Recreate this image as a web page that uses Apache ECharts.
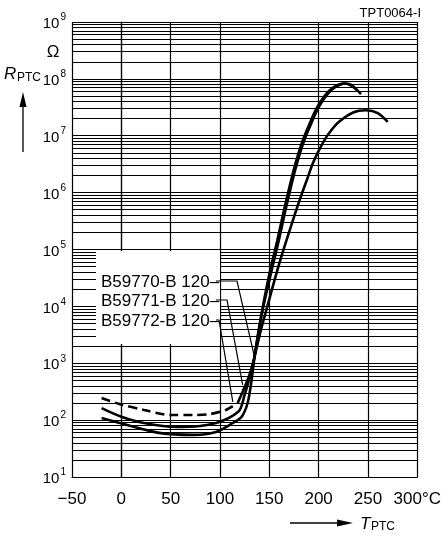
<!DOCTYPE html>
<html><head><meta charset="utf-8">
<script src="https://cdn.jsdelivr.net/npm/echarts@6/dist/echarts.min.js"></script>
<style>html,body{margin:0;padding:0;background:#fff}#c{width:444px;height:536px}</style>
</head><body><div id="c"></div>
<script>
// ---- axis ticks ----
const xTicks = [-50, 0, 50, 100, 150, 200, 250, 300];
const yMin = 10, yMax = 1e9;
const curveLabels = ['B59770-B 120', 'B59771-B 120', 'B59772-B 120'];

// ---- B59770-B120 (lowest at low temperature) ----
const tempA = [-20, 6, 40, 73, 96, 113, 122, 128, 132, 135, 139, 144, 152.5, 159.5, 165.5, 171.5, 176.5, 181.5, 186.5, 191.5, 197.5, 203.5, 209.5, 215.5, 221.5, 227.5, 233.5, 240];
const resA  = [109, 82, 59, 55, 62, 89, 115, 200, 500, 1290, 3550, 1.0e4, 4.4e4, 1.41e5, 4.2e5, 1.17e6, 2.6e6, 5.2e6, 9.3e6, 1.5e7, 2.6e7, 4.0e7, 5.5e7, 6.9e7, 7.9e7, 8.3e7, 7.8e7, 6.0e7];

// ---- B59771-B120 (middle) ----
const tempB = [-20, 0, 23, 56, 80, 96, 110, 120, 125, 130, 135, 139, 143.5, 151, 158, 164, 170, 175, 180, 185, 190, 196, 202, 208, 214, 220, 226, 232, 238, 243];
const resB  = [163, 115, 89, 76, 79, 89, 112, 151, 280, 560, 1290, 3550, 1.0e4, 4.4e4, 1.41e5, 4.2e5, 1.17e6, 2.6e6, 5.2e6, 9.3e6, 1.5e7, 2.6e7, 4.0e7, 5.5e7, 6.9e7, 7.9e7, 8.3e7, 7.8e7, 6.6e7, 5.4e7];

// ---- B59772-B120 (dashed part at low temperature, then solid) ----
const tempCdash = [-20, -2, 23, 50, 73, 90, 106, 118];
const resCdash  = [245, 192, 151, 123, 123, 128, 151, 200];
const tempC = [118, 126, 131, 135, 141, 148, 160, 170, 180, 188, 195, 205, 213, 221, 235, 248, 260, 270];
const resC  = [200, 417, 710, 1290, 3550, 1.0e4, 5.6e4, 2.0e5, 6.8e5, 1.66e6, 3.55e6, 7.9e6, 1.26e7, 1.78e7, 2.57e7, 2.8e7, 2.5e7, 1.75e7];

// leader line targets on the curves (temp, resistance)
const leaderTemp = [135, 123, 113];
const leaderRes  = [1290, 417, 209];

const zip = (a, b) => a.map((v, i) => [v, b[i]]);

// minor log grid lines 2..9 x 10^n
const minorVals = [];
for (let e = 1; e < 9; e++) for (let k = 2; k <= 9; k++) minorVals.push(k * Math.pow(10, e));

const FONT = '"Liberation Sans", Arial, sans-serif';
const NARROW = '"Liberation Sans Narrow", "Liberation Sans", sans-serif';

const chart = echarts.init(document.getElementById('c'), null, {renderer: 'canvas'});
const curveStyle = {color: '#000', width: 2.6};
const mkSeries = (data, type) => ({
  type: 'line', data, smooth: 0.3, showSymbol: false, symbol: 'none', silent: true,
  lineStyle: Object.assign({}, curveStyle, type ? {type: type} : {}), z: 5
});

chart.setOption({
  animation: false,
  backgroundColor: '#fff',
  grid: {left: 72, right: 24, top: 22, bottom: 59, containLabel: false},
  xAxis: {
    type: 'value', min: -50, max: 300, interval: 50,
    axisLine: {show: true, lineStyle: {color: '#000', width: 1.2}},
    axisTick: {show: false},
    splitLine: {show: true, lineStyle: {color: '#000', width: 1.2}},
    axisLabel: {
      margin: 14, color: '#000', fontFamily: NARROW, fontSize: 17,
      formatter: v => v === 300 ? '300°C' : (v < 0 ? '\u2212' + Math.abs(v) : String(v))
    }
  },
  yAxis: {
    type: 'log', logBase: 10, min: yMin, max: yMax, splitNumber: 8,
    axisLine: {show: true, lineStyle: {color: '#000', width: 1.2}},
    axisTick: {show: false},
    splitLine: {show: true, lineStyle: {color: '#000', width: 1.2}},
    axisLabel: {
      margin: 6, color: '#000',
      formatter: v => '{b|10}{s|' + Math.round(Math.log10(v)) + '}',
      rich: {
        b: {fontFamily: FONT, fontSize: 15, color: '#000', padding: [4, 0, 0, 0]},
        s: {fontFamily: FONT, fontSize: 10, color: '#000', padding: [0, 0, 9, 1]}
      }
    }
  },
  series: [
    Object.assign(mkSeries([]), {
      markLine: {
        silent: true, symbol: 'none', animation: false,
        label: {show: false},
        lineStyle: {color: '#000', width: 1, type: 'solid'},
        data: minorVals.map(v => ({yAxis: v}))
      }, z: 2
    }),
    mkSeries(zip(tempA, resA)),
    mkSeries(zip(tempB, resB)),
    mkSeries(zip(tempCdash, resCdash), [9, 5]),
    mkSeries(zip(tempC, resC))
  ]
});

// annotation box and leaders
const labelY = [282, 301, 321];
const elbowX = [237, 227, 219];
const g = [];
g.push({type: 'rect', shape: {x: 96, y: 251, width: 124, height: 93}, style: {fill: '#fff'}, z: 20, silent: true});
curveLabels.forEach((t, i) => {
  g.push({type: 'text', x: 101, y: labelY[i], z: 30, silent: true,
    style: {text: t + '\u2013', fill: '#000', font: '17px "Liberation Sans", sans-serif', textVerticalAlign: 'middle', textAlign: 'left'}});
  const p = chart.convertToPixel({gridIndex: 0}, [leaderTemp[i], leaderRes[i]]);
  g.push({type: 'polyline', z: 30, silent: true,
    shape: {points: [[216, labelY[i] - 1], [elbowX[i], labelY[i] - 1], p]},
    style: {stroke: '#000', lineWidth: 1.2, fill: null}});
});
// titles
g.push({type: 'text', x: 421, y: 13, z: 30, style: {text: 'TPT0064-I', fill: '#000', font: '13px "Liberation Sans", sans-serif', textAlign: 'right', textVerticalAlign: 'middle'}});
g.push({type: 'text', x: 53, y: 52, z: 30, style: {text: 'Ω', fill: '#000', font: '17px "Liberation Sans", sans-serif', textAlign: 'center', textVerticalAlign: 'middle'}});
g.push({type: 'text', x: 4, y: 74, z: 30, style: {text: 'R', fill: '#000', font: 'italic 17px "Liberation Sans", sans-serif', textAlign: 'left', textVerticalAlign: 'middle'}});
g.push({type: 'text', x: 17, y: 78, z: 30, style: {text: 'PTC', fill: '#000', font: '12px "Liberation Sans", sans-serif', textAlign: 'left', textVerticalAlign: 'middle'}});
g.push({type: 'line', z: 30, shape: {x1: 23, y1: 152, x2: 23, y2: 100}, style: {stroke: '#000', lineWidth: 1.3}});
g.push({type: 'polygon', z: 30, shape: {points: [[23, 92], [19.5, 107], [26.5, 107]]}, style: {fill: '#000'}});
g.push({type: 'line', z: 30, shape: {x1: 290, y1: 523, x2: 340, y2: 523}, style: {stroke: '#000', lineWidth: 1.3}});
g.push({type: 'polygon', z: 30, shape: {points: [[353, 523], [337, 519.5], [337, 526.5]]}, style: {fill: '#000'}});
g.push({type: 'text', x: 360, y: 524, z: 30, style: {text: 'T', fill: '#000', font: 'italic 17px "Liberation Sans", sans-serif', textAlign: 'left', textVerticalAlign: 'middle'}});
g.push({type: 'text', x: 371, y: 527, z: 30, style: {text: 'PTC', fill: '#000', font: '12px "Liberation Sans", sans-serif', textAlign: 'left', textVerticalAlign: 'middle'}});
chart.setOption({graphic: {elements: g}});
</script>
</body></html>
